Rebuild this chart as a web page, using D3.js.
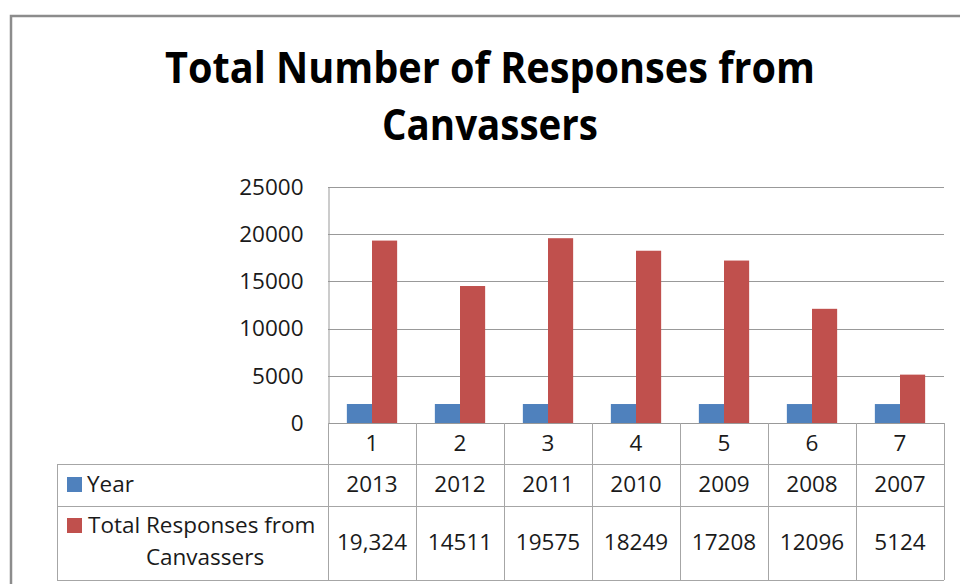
<!DOCTYPE html>
<html>
<head>
<meta charset="utf-8">
<script src="https://cdn.jsdelivr.net/npm/d3@7"></script>
<style>
body { margin: 0; background: #fff; }
svg { display: block; font-family: "Open Sans", "Liberation Sans", sans-serif; }
</style>
</head>
<body>
<div id="chart"></div>
<script>
// values
var categories = ["1", "2", "3", "4", "5", "6", "7"];
var years = [2013, 2012, 2011, 2010, 2009, 2008, 2007];
var responses = [19324, 14511, 19575, 18249, 17208, 12096, 5124];
var responseLabels = ["19,324", "14511", "19575", "18249", "17208", "12096", "5124"];
var yTicks = [0, 5000, 10000, 15000, 20000, 25000];
var seriesNames = ["Year", "Total Responses from Canvassers"];
var seriesColors = ["#4f81bd", "#c0504d"];
var titleLines = ["Total Number of Responses from", "Canvassers"];

var width = 960;
var height = 584;
var plotLeft = 328, plotRight = 944, plotTop = 187, plotBottom = 423;
var tableLeft = 57;
var rowLines = [423, 464, 506, 580];
var gridColor = "#999";
var tableColor = "#a6a6a6";
var fontSize = "22.5px";

var svg = d3.select("#chart").append("svg")
	.attr("width", width)
	.attr("height", height);

svg.append("rect")
	.attr("width", width).attr("height", height)
	.attr("fill", "#fff");

// outer chart frame, runs off right and bottom
svg.append("rect")
	.attr("x", 11).attr("y", 16)
	.attr("width", 1000).attr("height", 700)
	.attr("fill", "none")
	.attr("stroke", "#8c8c8c")
	.attr("stroke-width", 2.5);

// title
var titleSizes = [[83, 650], [140, 216]];
svg.selectAll(".title").data(titleLines).enter().append("text")
	.attr("class", "title")
	.attr("x", 490)
	.attr("y", function(d, i) { return titleSizes[i][0]; })
	.attr("text-anchor", "middle")
	.attr("textLength", function(d, i) { return titleSizes[i][1]; })
	.attr("lengthAdjust", "spacingAndGlyphs")
	.style("font-family", "'Liberation Sans Narrow', 'Open Sans', sans-serif")
	.style("font-weight", "bold")
	.style("font-size", "43px")
	.attr("fill", "#000")
	.text(function(d) { return d; });

var x = d3.scaleBand()
	.domain(categories)
	.range([plotLeft, plotRight]);

var y = d3.scaleLinear()
	.domain([0, 25000])
	.range([plotBottom, plotTop]);

// excel style gap width 150%
var barW = x.bandwidth() / 3.5;
var x1 = d3.scaleBand()
	.domain([0, 1])
	.range([(x.bandwidth() - 2 * barW) / 2, (x.bandwidth() + 2 * barW) / 2]);

// gridlines
svg.append("g").selectAll("line").data(yTicks.slice(1)).enter().append("line")
	.attr("x1", plotLeft).attr("x2", plotRight)
	.attr("y1", function(d) { return Math.round(y(d)) + 0.5; })
	.attr("y2", function(d) { return Math.round(y(d)) + 0.5; })
	.attr("stroke", gridColor);

var yAxis = svg.append("g")
	.attr("transform", "translate(" + (plotLeft + 0.5) + ",0)")
	.call(d3.axisLeft(y).tickValues(yTicks).tickSize(0).tickPadding(25).tickFormat(d3.format("d")));
yAxis.select(".domain").attr("stroke", gridColor);
yAxis.selectAll("text")
	.style("font-size", fontSize)
	.style("font-family", "'Open Sans', sans-serif")
	.attr("fill", "#1a1a1a");

// bars
var series = [years, responses];
var groups = svg.append("g").selectAll("g").data(categories).enter().append("g")
	.attr("transform", function(d) { return "translate(" + x(d) + ",0)"; });

groups.selectAll("rect").data(function(d, i) {
		return series.map(function(s, k) { return {k: k, v: s[i]}; });
	}).enter().append("rect")
	.attr("x", function(d) { return x1(d.k); })
	.attr("y", function(d) { return y(d.v); })
	.attr("width", x1.bandwidth())
	.attr("height", function(d) { return y(0) - y(d.v); })
	.attr("fill", function(d) { return seriesColors[d.k]; });

// data table
var table = svg.append("g").attr("stroke", tableColor).attr("shape-rendering", "crispEdges");
table.append("line")
	.attr("x1", plotLeft).attr("x2", plotRight)
	.attr("y1", rowLines[0] + 0.5).attr("y2", rowLines[0] + 0.5)
	.attr("stroke", gridColor);
rowLines.slice(1).forEach(function(r) {
	table.append("line")
		.attr("x1", tableLeft).attr("x2", plotRight)
		.attr("y1", r + 0.5).attr("y2", r + 0.5);
});
table.append("line")
	.attr("x1", tableLeft + 0.5).attr("x2", tableLeft + 0.5)
	.attr("y1", rowLines[1]).attr("y2", rowLines[3]);
categories.concat(["end"]).forEach(function(c, i) {
	var xx = i < categories.length ? x(c) : plotRight;
	table.append("line")
		.attr("x1", Math.round(xx) + 0.5).attr("x2", Math.round(xx) + 0.5)
		.attr("y1", rowLines[0]).attr("y2", rowLines[3]);
});

var cellText = function(labels, base) {
	svg.append("g").selectAll("text").data(labels).enter().append("text")
		.attr("x", function(d, i) { return x(categories[i]) + x.bandwidth() / 2; })
		.attr("y", base)
		.attr("text-anchor", "middle")
		.style("font-size", fontSize)
		.attr("fill", "#1a1a1a")
		.text(function(d) { return d; });
};
cellText(categories, 451);
cellText(years, 492);
cellText(responseLabels, 550);

// legend keys in the table
svg.append("rect").attr("x", 67).attr("y", 477).attr("width", 15).attr("height", 15).attr("fill", seriesColors[0]);
svg.append("rect").attr("x", 67).attr("y", 518).attr("width", 15).attr("height", 15).attr("fill", seriesColors[1]);

svg.append("text").attr("x", 87).attr("y", 492)
	.style("font-size", fontSize).attr("fill", "#1a1a1a")
	.text(seriesNames[0]);

var words = seriesNames[1].split(" ");
svg.append("text").attr("x", 88).attr("y", 533)
	.style("font-size", fontSize).attr("fill", "#1a1a1a")
	.text(words.slice(0, 3).join(" "));
svg.append("text").attr("x", 205).attr("y", 565)
	.attr("text-anchor", "middle")
	.style("font-size", fontSize).attr("fill", "#1a1a1a")
	.text(words.slice(3).join(" "));
</script>
</body>
</html>
